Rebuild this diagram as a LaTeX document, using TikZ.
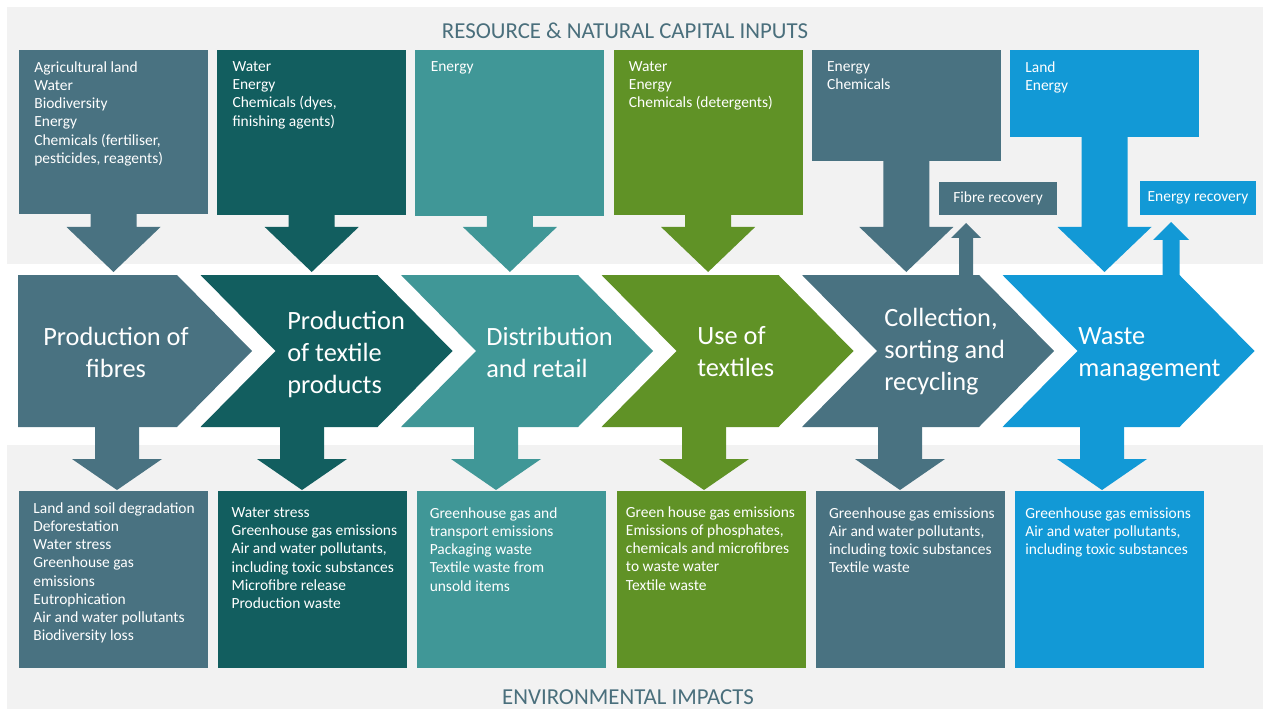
\documentclass[tikz,border=0pt]{standalone}
\usepackage{fontspec}
\setmainfont{Carlito}
\usepackage{xcolor}
\usepackage{tikz}
\usetikzlibrary{calc}

\definecolor{slate}{RGB}{73,114,129}
\definecolor{dteal}{RGB}{18,94,95}
\definecolor{midteal}{RGB}{64,151,151}
\definecolor{leaf}{RGB}{96,146,38}
\definecolor{sky}{RGB}{18,153,214}
\definecolor{panel}{RGB}{242,242,242}
\definecolor{headgrey}{RGB}{74,111,124}

% fat arrow: colour, x, y start, y of head, y of tip, half stem, half head
\newcommand{\blockarrow}[7]{\fill[#1] (#2-#6,#3) -- (#2+#6,#3) -- (#2+#6,#4) -- (#2+#7,#4) -- (#2,#5) -- (#2-#7,#4) -- (#2-#6,#4) -- cycle;}

\tikzset{
  boxtext/.style={inner sep=0pt, anchor=north west, align=left, text=white, font=\fontsize{8.8}{10.4}\selectfont},
  stagetext/.style={inner sep=0pt, align=left, text=white, font=\fontsize{15}{18.2}\selectfont},
  heading/.style={inner sep=0pt, text=headgrey, font=\fontsize{13}{15}\selectfont}
}

\begin{document}
\begin{tikzpicture}[x=0.02cm,y=-0.02cm]
		\useasboundingbox (0,0) rectangle (1266,709);
		\fill[panel] (7,7) rectangle (1263,264);
		\fill[panel] (7,445) rectangle (1263,709);
		\node[heading] (inputs) at (625,31) {RESOURCE \& NATURAL CAPITAL INPUTS};
		\node[heading] (impacts) at (628,697) {ENVIRONMENTAL IMPACTS};

		% inputs
		\foreach \k/\col/\b/\txt in {
			1/slate/214/{Agricultural land\\Water\\Biodiversity\\Energy\\Chemicals (fertiliser,\\pesticides, reagents)},
			2/dteal/215/{Water\\Energy\\Chemicals (dyes,\\finishing agents)},
			3/midteal/216/{Energy},
			4/leaf/215/{Water\\Energy\\Chemicals (detergents)},
			5/slate/161/{Energy\\Chemicals},
			6/sky/137/{Land\\Energy}}{
			\pgfmathsetmacro\lx{19+198.2*(\k-1)}
			\fill[\col] (\lx,50) rectangle (\lx+189,\b);
			\node[boxtext] (in\k) at (\lx+15,61) {\txt};
			\blockarrow{\col}{\lx+94.5}{\b-1}{227}{272}{23}{47}
		}

		% stages
		\fill[slate] (18,275) -- (177,275) -- (252,351) -- (177,427) -- (18,427) -- cycle;
		\foreach \k/\col in {1/dteal,2/midteal,3/leaf,4/slate,5/sky}
			\fill[\col] (200.5*\k,275) -- ++(177,0) -- ++(75,76) -- ++(-75,76) -- ++(-177,0) -- ++(75,-76) -- cycle;
		\node[stagetext, align=center] (st1) at (116,352) {Production of\\fibres};
		\node[stagetext, anchor=west] (st2) at (287,354) {Production\\of textile\\products};
		\node[stagetext, anchor=west] (st3) at (486,352) {Distribution\\and retail};
		\node[stagetext, anchor=west] (st4) at (697,352) {Use of\\textiles};
		\node[stagetext, anchor=west] (st5) at (884,352) {Collection,\\sorting and\\recycling};
		\node[stagetext, anchor=west] (st6) at (1078,354) {Waste\\management};

		% recovery loops
		\fill[slate] (939,182) rectangle (1057,215);
		\node[boxtext, anchor=center] (fibre) at (998,198.5) {Fibre recovery};
		\blockarrow{slate}{966}{276}{238}{223}{7}{15}
		\fill[sky] (1140,181) rectangle (1256,215);
		\node[boxtext, anchor=center] (energy) at (1198,198) {Energy recovery};
		\blockarrow{sky}{1171}{276}{240}{222}{8.5}{18}

		% impacts
		\foreach \x/\col in {117/slate,302/dteal,496/midteal,704/leaf,900/slate,1102/sky}{
			\blockarrow{\col}{\x}{426}{459}{490}{22}{45}
		}
		\foreach \k/\col/\dx/\dy/\txt in {
			1/slate/14/0/{Land and soil degradation\\Deforestation\\Water stress\\Greenhouse gas\\emissions\\Eutrophication\\Air and water pollutants\\Biodiversity loss},
			2/dteal/13/5/{Water stress\\Greenhouse gas emissions\\Air and water pollutants,\\including toxic substances\\Microfibre release\\Production waste},
			3/midteal/12/5/{Greenhouse gas and\\transport emissions\\Packaging waste\\Textile waste from\\unsold items},
			4/leaf/9/4/{Green house gas emissions\\Emissions of phosphates,\\chemicals and microfibres\\to waste water\\Textile waste},
			5/slate/13/5/{Greenhouse gas emissions\\Air and water pollutants,\\including toxic substances\\Textile waste},
			6/sky/10/5/{Greenhouse gas emissions\\Air and water pollutants,\\including toxic substances}}{
			\pgfmathsetmacro\lx{19+199.2*(\k-1)}
			\fill[\col] (\lx,491) rectangle (\lx+189,668);
			\node[boxtext] (out\k) at (\lx+\dx,502+\dy) {\txt};
		}
	\end{tikzpicture}
\end{document}
